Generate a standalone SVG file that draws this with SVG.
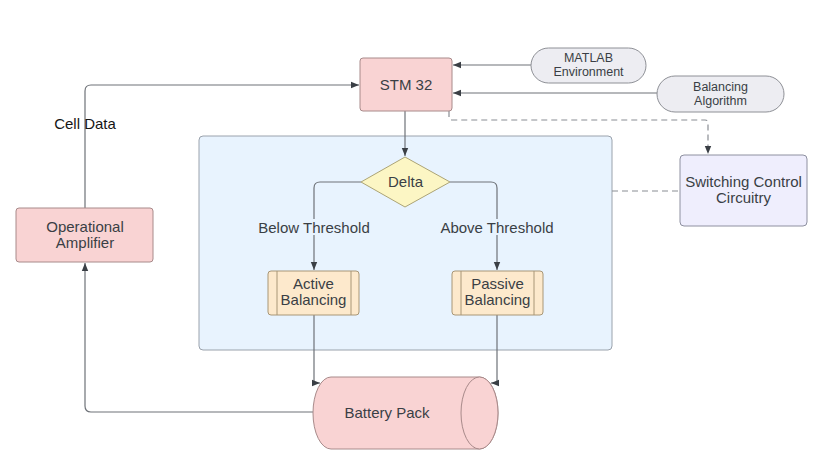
<svg xmlns="http://www.w3.org/2000/svg" width="831" height="467" viewBox="0 0 831 467">
<defs>
<marker id="arr" viewBox="0 0 10 10" refX="10" refY="5" markerWidth="8" markerHeight="8" markerUnits="userSpaceOnUse" orient="auto">
<path d="M0,1 L10,5 L0,9 Z" fill="#3a3f45"/>
</marker>
<style>
text{font-family:"Liberation Sans",Arial,sans-serif;font-size:15px;fill:#3a3f45;text-anchor:middle;dominant-baseline:central}
.sm{font-size:12.5px}
.line{fill:none;stroke:#6e7278;stroke-width:1.2}
.dash{fill:none;stroke:#8a8e94;stroke-width:1.2;stroke-dasharray:6 4}
.pink{fill:#f9d3d3;stroke:#a88a8a;stroke-width:1}
.pill{fill:#ededf2;stroke:#8e9096;stroke-width:1}
.lav{fill:#efeefd;stroke:#8e90a0;stroke-width:1}
.yel{fill:#fcf6c4;stroke:#aca476;stroke-width:1}
.peach{fill:#fde9cc;stroke:#a89676;stroke-width:1}
.cont{fill:#e8f3fe;stroke:#9aa2ac;stroke-width:1}
</style>
</defs>
<rect width="831" height="467" fill="#ffffff"/>

<g id="container">
<rect class="cont" x="199" y="136" width="413" height="214" rx="4"/>
</g>

<g id="connectors">
<path class="line" d="M85,208 V91 Q85,85 91,85 H359" marker-end="url(#arr)"/>
<path class="line" d="M313,412 H91 Q85,412 85,406 V263" marker-end="url(#arr)"/>
<path class="line" d="M531,65 H453" marker-end="url(#arr)"/>
<path class="line" d="M657,93 H453" marker-end="url(#arr)"/>
<path class="line" d="M405,111 V156" marker-end="url(#arr)"/>
<path class="line" d="M361,182 H320 Q314,182 314,188 V270" marker-end="url(#arr)"/>
<path class="line" d="M450,182 H491 Q497,182 497,188 V270" marker-end="url(#arr)"/>
<path class="line" d="M314,315 V383 H320" marker-end="url(#arr)"/>
<path class="line" d="M497,315 V383 H491" marker-end="url(#arr)"/>
<path class="dash" d="M449,111 V117 Q449,120 452,120 H705 Q708,120 708,123 V154" marker-end="url(#arr)"/>
<path class="dash" d="M612,191 H680"/>
<rect x="256" y="219" width="116" height="16" fill="#e8f3fe"/>
<text x="314" y="227">Below Threshold</text>
<rect x="438" y="219" width="118" height="16" fill="#e8f3fe"/>
<text x="497" y="227">Above Threshold</text>
<text x="85" y="123" style="fill:#151515">Cell Data</text>
</g>

<g id="stm32">
<rect class="pink" x="360" y="58" width="92" height="53" rx="3"/>
<text x="406" y="84">STM 32</text>
</g>

<g id="matlab">
<rect class="pill" x="531" y="48" width="115" height="35" rx="17.5"/>
<text class="sm" x="588.5" y="58">MATLAB</text>
<text class="sm" x="588.5" y="71.5">Environment</text>
</g>

<g id="balancing-algorithm">
<rect class="pill" x="657" y="76" width="127" height="36" rx="18"/>
<text class="sm" x="720.5" y="87">Balancing</text>
<text class="sm" x="720.5" y="100.5">Algorithm</text>
</g>

<g id="switching">
<rect class="lav" x="680" y="155" width="127" height="71" rx="4"/>
<text x="743.5" y="181.5">Switching Control</text>
<text x="743.5" y="197.5">Circuitry</text>
</g>

<g id="opamp">
<rect class="pink" x="16" y="208" width="137" height="54" rx="3"/>
<text x="85" y="226">Operational</text>
<text x="85" y="242">Amplifier</text>
</g>

<g id="delta">
<polygon class="yel" points="405,157 450,182 405,207 361,182" stroke-linejoin="round"/>
<text x="405.5" y="181">Delta</text>
</g>

<g id="active">
<rect class="peach" x="268" y="271" width="91" height="44" rx="3"/>
<line class="peach" x1="277" y1="271" x2="277" y2="315"/>
<line class="peach" x1="351" y1="271" x2="351" y2="315"/>
<text x="313.5" y="283">Active</text>
<text x="313.5" y="299">Balancing</text>
</g>

<g id="passive">
<rect class="peach" x="452" y="271" width="91" height="44" rx="3"/>
<line class="peach" x1="461" y1="271" x2="461" y2="315"/>
<line class="peach" x1="534" y1="271" x2="534" y2="315"/>
<text x="497.5" y="283">Passive</text>
<text x="497.5" y="299">Balancing</text>
</g>

<g id="battery">
<path class="pink" d="M331,377 H479.5 A18.5,36 0 0 1 479.5,449 H331 A18,36 0 0 1 331,377 Z"/>
<ellipse class="pink" cx="479.5" cy="413" rx="18.5" ry="36"/>
<text x="387" y="412">Battery Pack</text>
</g>
</svg>
